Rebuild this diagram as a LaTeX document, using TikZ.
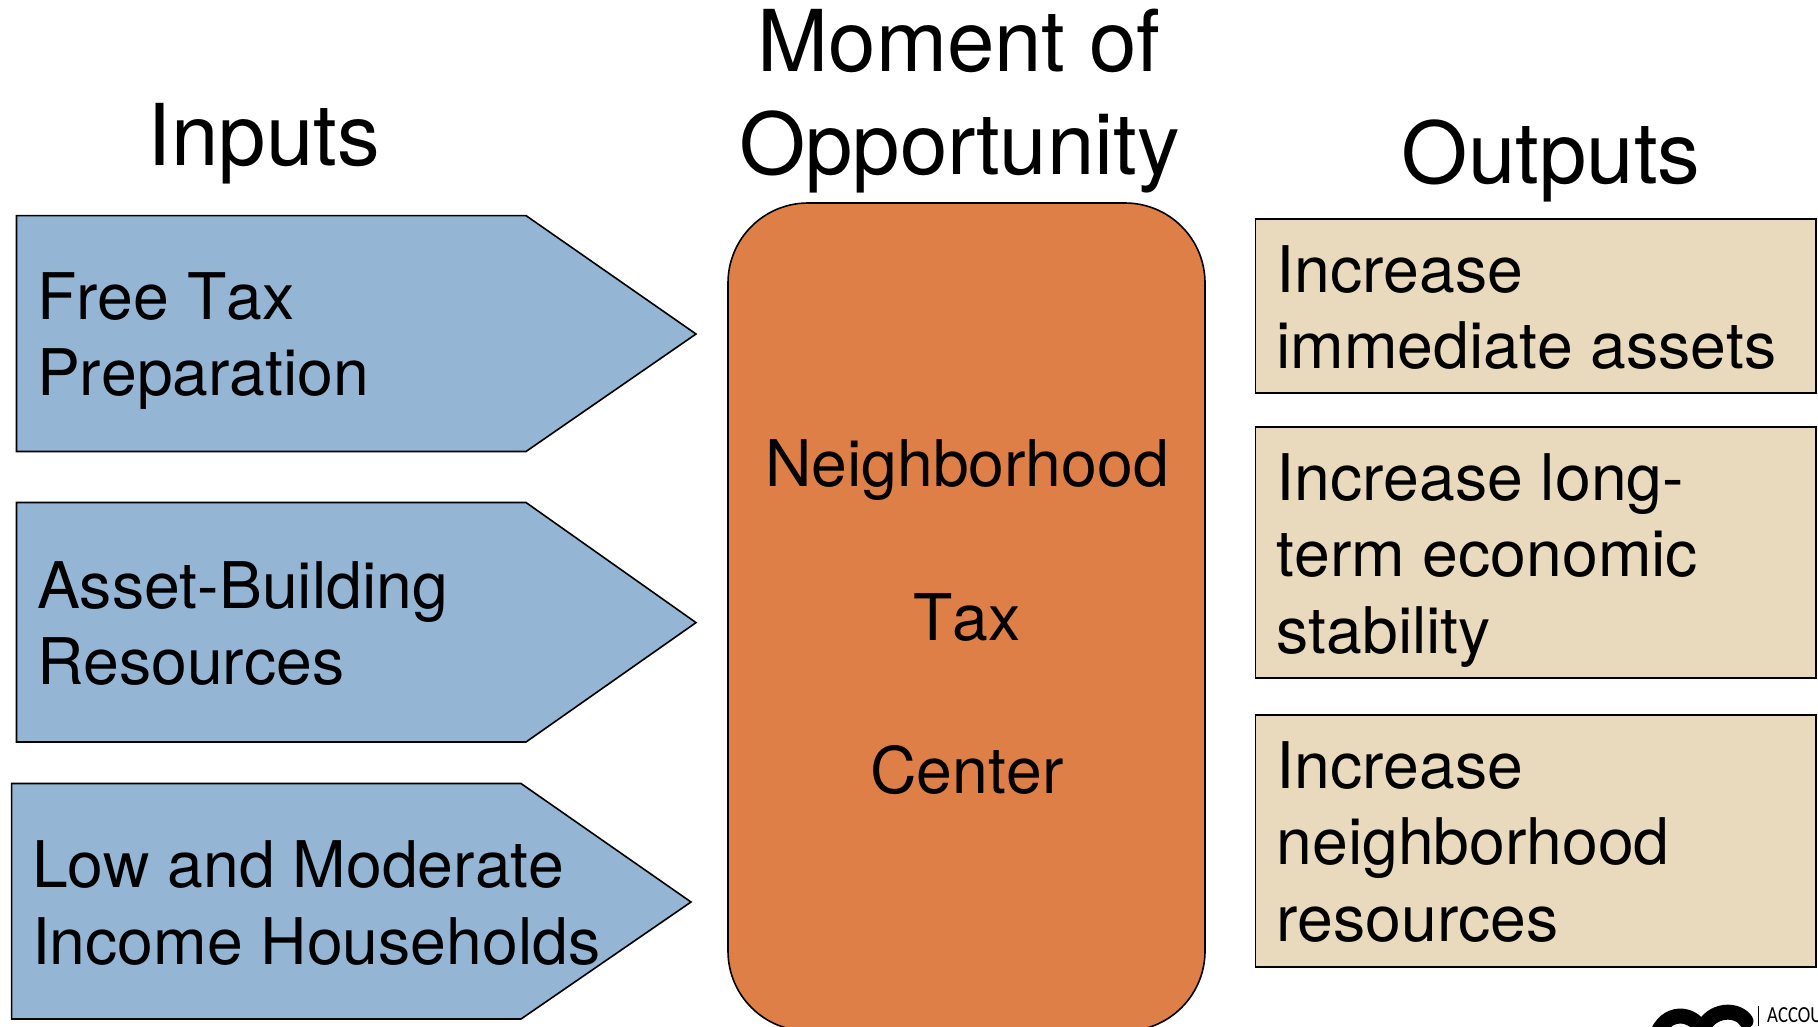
\documentclass[tikz,border=0pt]{standalone}
\usepackage{graphicx}
\usepackage{fontspec}
\setmainfont[Kerning=Off]{TeX Gyre Heros}
\newfontfamily\logofont{Carlito}
\definecolor{arrowblue}{HTML}{94B5D3}
\definecolor{centerorange}{HTML}{DD7F47}
\definecolor{boxtan}{HTML}{E9DABE}
\tikzset{
  x=1pt,y=-1pt,
  shapeline/.style={draw=black,line width=1.6pt,line join=miter},
  inarrow/.style={shapeline,fill=arrowblue},
  centerbox/.style={shapeline,fill=centerorange},
  outbox/.style={shapeline,fill=boxtan},
  body/.style={inner sep=0pt,outer sep=0pt,anchor=north west,align=left,font=\fontsize{64.3}{76.5}\selectfont},
  midtext/.style={inner sep=0pt,outer sep=0pt,anchor=base,font=\fontsize{64.3}{76.5}\selectfont},
  heading/.style={inner sep=0pt,outer sep=0pt,anchor=base,font=\fontsize{85.3}{102}\selectfont},
}
\begin{document}
\begin{tikzpicture}
\useasboundingbox (0,0) rectangle (1818,1026);
\clip (0,0) rectangle (1818,1026);
\fill[white] (0,0) rectangle (1818,1026);
% input arrows
\draw[inarrow] (16.5,215.6) -- (526,215.6) -- (696,334) -- (526,451.5) -- (16.5,451.5) -- cycle;
\draw[inarrow] (16.5,502.5) -- (526,502.5) -- (696,622.6) -- (526,742) -- (16.5,742) -- cycle;
\draw[inarrow] (11.6,783.5) -- (521,783.5) -- (691,902) -- (521,1019) -- (11.6,1019) -- cycle;
% centre
\draw[centerbox,rounded corners=80pt] (728,203) rectangle (1205,1031);
% output boxes
\draw[outbox] (1255.6,219) rectangle (1816,393);
\draw[outbox] (1255.6,427) rectangle (1816,678);
\draw[outbox] (1255.6,715) rectangle (1816,967);
% headings
\node[heading] (inputs) at (264,165) {Inputs};
\node[heading] (moment) at (959,71) {Moment of};
\node[heading] (opportunity) at (959.5,174) {Opportunity};
\node[heading] (outputs) at (1551,183) {Outputs};
% input text
\node[body] (free) at (37,272.5) {Free Tax\\Preparation};
\node[body] (asset) at (37,561.5) {Asset-Building\\Resources};
\node[body] (low) at (32,841) {Low and Moderate\\Income Households};
% centre text
\node[midtext] (nb) at (967,486) {Neighborhood};
\node[midtext] (tax) at (967,640) {Tax};
\node[midtext] (cen) at (967,793) {Center};
% output text
\node[body] (o1) at (1276.5,245.5) {Increase\\immediate assets};
\node[body] (o2) at (1276.5,453.5) {Increase long-\\term economic\\stability};
\node[body] (o3) at (1276.5,741.5) {Increase\\neighborhood\\resources};
% logo
\draw[black,line width=15pt,line cap=round,line join=round] (1655,1042) .. controls (1660,1012) and (1690,1008) .. (1702,1030) .. controls (1711,1008) and (1738,1008) .. (1746,1021);
\draw[black,line width=0.8pt] (1758,1006) -- (1758,1026);
\node[inner sep=0pt,anchor=base west,font=\logofont\fontsize{23}{26}\selectfont] (acc) at (1767,1022) {\scalebox{0.82}[1]{ACCOU}};
\end{tikzpicture}
\end{document}
